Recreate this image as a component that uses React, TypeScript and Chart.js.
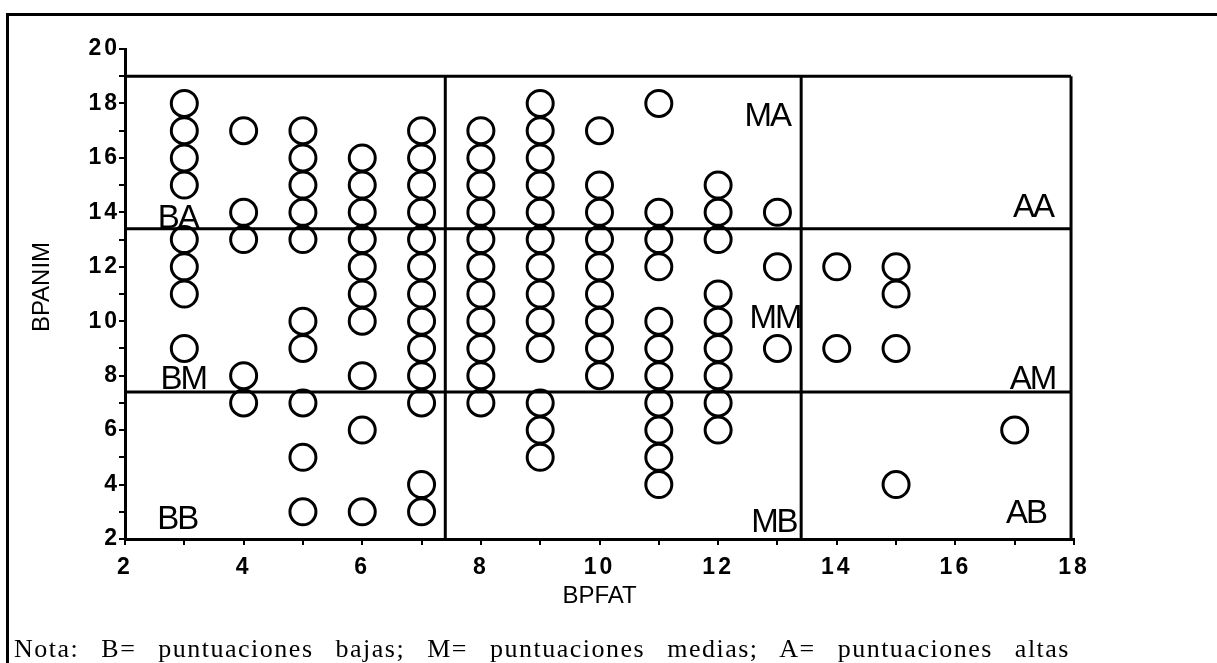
import React, { useEffect, useRef } from "react";
import { Chart, registerables } from "chart.js";

Chart.register(...registerables);

// BPFAT scores (x) and, for each one, the BPANIM scores (y) observed
const bpfatValues = [3, 4, 5, 6, 7, 8, 9, 10, 11, 12, 13, 14, 15, 17];
const bpanimByBpfat: number[][] = [
  [18, 17, 16, 15, 13, 12, 11, 9],
  [17, 14, 13, 8, 7],
  [17, 16, 15, 14, 13, 10, 9, 7, 5, 3],
  [16, 15, 14, 13, 12, 11, 10, 8, 6, 3],
  [17, 16, 15, 14, 13, 12, 11, 10, 9, 8, 7, 4, 3],
  [17, 16, 15, 14, 13, 12, 11, 10, 9, 8, 7],
  [18, 17, 16, 15, 14, 13, 12, 11, 10, 9, 7, 6, 5],
  [17, 15, 14, 13, 12, 11, 10, 9, 8],
  [18, 14, 13, 12, 10, 9, 8, 7, 6, 5, 4],
  [15, 14, 13, 11, 10, 9, 8, 7, 6],
  [14, 12, 9],
  [12, 9],
  [12, 11, 9, 4],
  [6],
];

// Axis ranges and cut-off values for the low / medium / high groups
const xRange = [2, 18];
const yRange = [2, 20];
const lowCutoff = 7.4;
const highCutoff = 13.4;
const boxTop = 19;
const boxRight = 17.95;

// Quadrant labels and their anchors (data coordinates)
const quadrantLabels = ["BA", "BM", "BB", "MA", "MM", "MB", "AA", "AM", "AB"];
const quadrantLabelX = [2.89, 2.98, 2.88, 12.83, 12.96, 12.94, 17.31, 17.3, 17.19];
const quadrantLabelY = [13.87, 7.95, 2.81, 17.61, 10.19, 2.7, 14.27, 7.95, 3.03];

const xTitle = "BPFAT";
const yTitle = "BPANIM";
const noteText =
  "Nota: B= puntuaciones bajas; M= puntuaciones medias; A= puntuaciones altas";

const SANS = '"Liberation Sans", Arial, Helvetica, sans-serif';

export default function App() {
  const canvasRef = useRef<HTMLCanvasElement | null>(null);

  useEffect(() => {
    document.body.style.margin = "0";
    document.documentElement.style.overflow = "hidden";
    const canvas = canvasRef.current;
    if (!canvas) return;

    const points: { x: number; y: number }[] = [];
    bpfatValues.forEach((x, i) => {
      bpanimByBpfat[i].forEach((y) => points.push({ x, y }));
    });

    const lineSegments = [
      [{ x: xRange[0], y: boxTop }, { x: boxRight, y: boxTop }],
      [{ x: boxRight, y: yRange[0] }, { x: boxRight, y: boxTop }],
      [{ x: xRange[0], y: highCutoff }, { x: boxRight, y: highCutoff }],
      [{ x: xRange[0], y: lowCutoff }, { x: boxRight, y: lowCutoff }],
      [{ x: lowCutoff, y: yRange[0] }, { x: lowCutoff, y: boxTop }],
      [{ x: highCutoff, y: yRange[0] }, { x: highCutoff, y: boxTop }],
    ];

    const lineDatasets = lineSegments.map((seg) => ({
      type: "line" as const,
      data: seg,
      showLine: true,
      borderColor: "#000",
      borderWidth: 3,
      pointRadius: 0,
      fill: false,
      clip: false as any,
      tension: 0,
    }));

    const decorPlugin = {
      id: "decor",
      beforeDraw(chart: any) {
        chart.ctx.letterSpacing = "3px";
      },
      beforeDatasetsDraw(chart: any) {
        chart.ctx.letterSpacing = "0px";
      },
      afterDraw(chart: any) {
        const ctx = chart.ctx as CanvasRenderingContext2D;
        const xs = chart.scales.x;
        const ys = chart.scales.y;
        const ca = chart.chartArea;
        ctx.save();
        (ctx as any).letterSpacing = "-2px";
        ctx.fillStyle = "#000";
        ctx.textAlign = "center";
        ctx.textBaseline = "alphabetic";
        const fs = 33;
        ctx.font = `${fs}px ${SANS}`;
        quadrantLabels.forEach((t, i) => {
          const px = xs.getPixelForValue(quadrantLabelX[i]);
          const py = ys.getPixelForValue(quadrantLabelY[i]);
          ctx.fillText(t, px, py + fs * 0.36);
        });
        (ctx as any).letterSpacing = "0px";
        ctx.font = `24px ${SANS}`;
        ctx.textBaseline = "middle";
        ctx.fillText(xTitle, (ca.left + ca.right) / 2, ca.bottom + 57);
        ctx.translate(ca.left - 83, (ca.top + ca.bottom) / 2 - 7);
        ctx.rotate(-Math.PI / 2);
        ctx.fillText(yTitle, 0, 0);
        ctx.restore();
      },
    };

    const tickFont = { family: SANS, size: 23, weight: "bold" };

    const chart = new Chart(canvas, {
      type: "scatter",
      data: {
        datasets: [
          {
            type: "scatter" as const,
            data: points,
            pointStyle: "circle",
            pointRadius: 13,
            pointHoverRadius: 13,
            borderWidth: 3,
            borderColor: "#000",
            backgroundColor: "rgba(0,0,0,0)",
            clip: false as any,
          },
          ...lineDatasets,
        ] as any,
      },
      options: {
        animation: false,
        responsive: false,
        devicePixelRatio: 1,
        events: [],
        layout: { padding: { left: 0, top: 49, right: 143, bottom: 0 } },
        plugins: {
          legend: { display: false },
          tooltip: { enabled: false },
          title: { display: false },
        },
        scales: {
          x: {
            type: "linear",
            min: xRange[0],
            max: xRange[1],
            afterFit: (s: any) => {
              s.height = 124;
            },
            border: { display: true, color: "#000", width: 3 },
            grid: {
              display: true,
              drawOnChartArea: false,
              drawTicks: true,
              tickLength: 6,
              color: "#000",
              lineWidth: 2,
            },
            ticks: {
              stepSize: 1,
              autoSkip: false,
              maxRotation: 0,
              padding: 9,
              color: "#000",
              font: tickFont,
              callback: (v: any) => (Number(v) % 2 === 0 ? String(v) : ""),
            },
          },
          y: {
            type: "linear",
            min: yRange[0],
            max: yRange[1],
            afterFit: (s: any) => {
              s.width = 125;
            },
            border: { display: true, color: "#000", width: 3 },
            grid: {
              display: true,
              drawOnChartArea: false,
              drawTicks: true,
              tickLength: 6,
              color: "#000",
              lineWidth: 2,
            },
            ticks: {
              stepSize: 1,
              autoSkip: false,
              padding: -1,
              color: "#000",
              font: tickFont,
              callback: (v: any) => (Number(v) % 2 === 0 ? String(v) : ""),
            },
          },
        },
      } as any,
      plugins: [decorPlugin],
    });

    return () => {
      chart.destroy();
    };
  }, []);

  return (
    <div
      style={{
        position: "absolute",
        left: 0,
        top: 0,
        width: 1217,
        height: 663,
        overflow: "hidden",
        background: "#fff",
      }}
    >
      <div
        style={{
          position: "absolute",
          left: 6,
          top: 13,
          width: 1211,
          height: 650,
          boxSizing: "border-box",
          borderTop: "3px solid #000",
          borderLeft: "3px solid #000",
        }}
      />
      <canvas
        ref={canvasRef}
        width={1217}
        height={663}
        style={{ position: "absolute", left: 0, top: 0, width: 1217, height: 663, display: "block" }}
      />
      <div
        style={{
          position: "absolute",
          left: 14,
          top: 636,
          width: 1056,
          height: 27,
          fontFamily: '"Liberation Serif", "Times New Roman", serif',
          fontSize: 26,
          letterSpacing: "1.5px",
          lineHeight: "26px",
          color: "#000",
          textAlign: "justify",
          textAlignLast: "justify" as any,
          whiteSpace: "normal",
        }}
      >
        {noteText}
      </div>
    </div>
  );
}
